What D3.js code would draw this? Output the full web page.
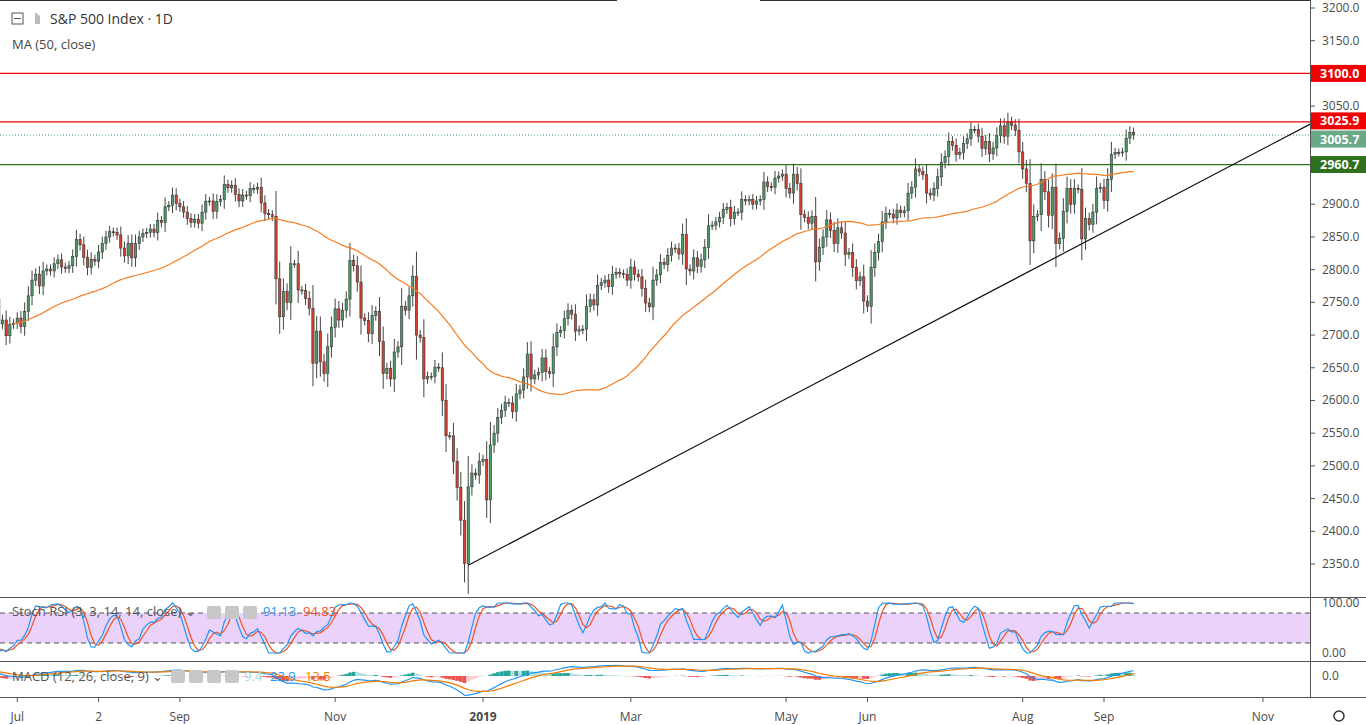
<!DOCTYPE html>
<html><head><meta charset="utf-8">
<script src="https://d3js.org/d3.v7.min.js"></script>
<style>body{margin:0;background:#fff;font-family:"Open Sans",Arial,sans-serif}svg{display:block}</style>
</head><body><svg id="c" width="1366" height="725"></svg>
<script>
// Daily closes before the visible window, 2018-04-20 .. 2018-06-22 (used by the indicators)
const priorCloses = [2670,2670,2635,2640,2667,2670,2648,
2655,2636,2630,2663,2673,2672,2697,2723,2728,2730,2711,2722,2720,2713,2733,2725,2733,2727,2721,2690,2724,2705,
2735,2747,2749,2772,2770,2779,2782,2787,2776,2782,2780,2774,2763,2767,2750,2755];
// Daily closes, 2018-06-25 .. 2019-09-13
const closesVisible = [
2717,2723,2699,2716,2718,
2726,2713,2736,2760,2784,2793,2775,2798,2801,2798,2809,2815,2804,2802,2806,2820,2846,2838,2819,2803,2816,
2813,2827,2840,2850,2858,2857,2853,2833,2821,2840,2818,2840,2850,2855,2857,2862,2857,2875,2872,2896,2898,2914,2901,
2896,2888,2878,2872,2877,2871,2888,2904,2905,2889,2904,2907,2930,2925,2929,2915,2905,2914,2913,
2924,2923,2926,2902,2886,2884,2881,2786,2728,2767,2750,2809,2809,2769,2768,2756,2741,2657,2706,2659,2641,2682,2712,
2740,2723,2738,2755,2814,2806,2781,2726,2722,2702,2730,2736,2690,2641,2649,2633,2674,2682,2744,2738,2760,
2790,2700,2696,2633,2637,2637,2651,2650,2600,2546,2546,2507,2467,2417,2351,2468,2489,2486,2507,
2510,2448,2532,2550,2574,2585,2597,2596,2583,2610,2616,2636,2671,2633,2639,2643,2665,2644,2641,2682,2704,
2707,2725,2738,2732,2706,2708,2709,2744,2754,2746,2776,2780,2784,2774,2793,2796,2794,2793,2784,
2804,2793,2789,2771,2749,2743,2784,2792,2811,2808,2822,2833,2832,2824,2854,2801,2798,2818,2805,2815,2834,
2867,2868,2873,2880,2892,2895,2878,2888,2888,2907,2905,2907,2900,2905,2907,2934,2927,2926,2940,2943,2946,
2924,2917,2946,2932,2884,2880,2871,2881,2812,2834,2850,2876,2860,2840,2864,2856,2823,2826,2803,2783,2789,2752,
2744,2803,2826,2843,2873,2886,2885,2879,2891,2887,2890,2917,2926,2954,2950,2945,2917,2914,2924,2942,
2964,2973,2996,2990,2976,2979,2993,3000,3014,3014,3004,2985,2996,2977,2986,3005,3020,3004,3026,3021,3013,2980,
2954,2932,2844,2881,2884,2938,2919,2883,2926,2840,2848,2889,2924,2900,2924,2923,2847,2878,2869,2888,2924,2926,
2906,2938,2976,2979,2979,2980,3001,3010,3006];
// indices into closesVisible
const timeTicks = [{i:5,t:"Jul"},{i:27,t:"2"},{i:49,t:"Sep"},{i:91,t:"Nov"},{i:131,t:"2019"},{i:171,t:"Mar"},{i:213,t:"May"},{i:235,t:"Jun"},{i:277,t:"Aug"},{i:299,t:"Sep"},{i:342,t:"Nov"}];
const priceTicks = [3200,3150,3100,3050,3000,2950,2900,2850,2800,2750,2700,2650,2600,2550,2500,2450,2400,2350];
const levels = [{v:3100.0,c:"#f00000"},{v:3025.9,c:"#f00000"},{v:2960.7,c:"#2f6f1e"}];
const lastPrice = 3005.7;
const trend = [{i:127,p:2348},{i:355.3,p:3024}];

const closes = priorCloses.concat(closesVisible);
const OFF = priorCloses.length;
const svg=d3.select("#c");
const W=1310;
const x=d3.scaleLinear().domain([131+OFF,299+OFF]).range([483,1104]);
const y=d3.scaleLinear().domain([2350,3200]).range([564,8]);
const step=x(1)-x(0), bw=step*0.62;
const main=svg.append("g");
main.append("clipPath").attr("id","cm").append("rect").attr("width",W).attr("height",597);
const g=main.append("g").attr("clip-path","url(#cm)");
const data=closes.map((c,i)=>{const o=i?closes[i-1]:c;const w=Math.abs(c-o)*0.35+6;return {i,o,c,h:Math.max(o,c)+w,l:Math.min(o,c)-w};}).filter(d=>d.i>=OFF-2);
g.selectAll(".wk").data(data).join("line").attr("x1",d=>x(d.i)).attr("x2",d=>x(d.i)).attr("y1",d=>y(d.h)).attr("y2",d=>y(d.l)).attr("stroke","#444").attr("stroke-width",1);
g.selectAll(".bd").data(data).join("rect").attr("x",d=>x(d.i)-bw/2).attr("width",bw).attr("y",d=>y(Math.max(d.o,d.c))).attr("height",d=>Math.max(1,Math.abs(y(d.o)-y(d.c)))).attr("fill",d=>d.c>=d.o?"#4c9a6a":"#d7402f").attr("stroke","#333").attr("stroke-width",0.6);
const ma=[];for(let i=49;i<closes.length;i++){ma.push({i,v:d3.mean(closes.slice(i-49,i+1))});}
g.append("path").datum(ma).attr("fill","none").attr("stroke","#f57c20").attr("stroke-width",1.2).attr("d",d3.line().x(d=>x(d.i)).y(d=>y(d.v)));
levels.forEach(L=>g.append("line").attr("x1",0).attr("x2",W).attr("y1",y(L.v)).attr("y2",y(L.v)).attr("stroke",L.c).attr("stroke-width",1.2));
g.append("line").attr("x1",0).attr("x2",W).attr("y1",y(lastPrice)).attr("y2",y(lastPrice)).attr("stroke","#4c9a6a").attr("stroke-dasharray","1,2");
g.append("line").attr("x1",x(trend[0].i+OFF)).attr("y1",y(trend[0].p)).attr("x2",x(trend[1].i+OFF)).attr("y2",y(trend[1].p)).attr("stroke","#111").attr("stroke-width",1.2);
svg.append("line").attr("x1",W+.5).attr("x2",W+.5).attr("y1",0).attr("y2",697).attr("stroke","#555");
const tags=[3100.0,3025.9,lastPrice,2960.7];
priceTicks.forEach(p=>{svg.append("line").attr("x1",W).attr("x2",W+5).attr("y1",y(p)).attr("y2",y(p)).attr("stroke","#555");
 if(tags.some(t=>Math.abs(y(t)-y(p))<15))return;
 svg.append("text").attr("x",1322).attr("y",y(p)+4).attr("font-size",12).attr("fill","#4a4a4a").text(p.toFixed(1));});
const tag=(v,c,dy)=>{const yy=y(v)+dy;svg.append("rect").attr("x",W+1).attr("y",yy-8.5).attr("width",56).attr("height",17).attr("fill",c);
 svg.append("text").attr("x",1320).attr("y",yy+4.5).attr("font-size",12.5).attr("font-weight","bold").attr("fill","#fff").text(v.toFixed(1));};
tag(3100.0,"#f00000",0);tag(3025.9,"#f00000",-1);tag(lastPrice,"#6aa886",4);tag(2960.7,"#2f6f1e",0);
svg.append("rect").attr("x",12).attr("y",13).attr("width",11).attr("height",11).attr("fill","none").attr("stroke","#555");
svg.append("line").attr("x1",14).attr("x2",21).attr("y1",18.5).attr("y2",18.5).attr("stroke","#555");
svg.append("path").attr("d","M35,12 L40,16 L40,24 L35,24Z").attr("fill","#bbb");
svg.append("text").attr("x",50).attr("y",24).attr("font-size",14).attr("fill","#333").text("S&P 500 Index · 1D");
svg.append("text").attr("x",12).attr("y",49).attr("font-size",13).attr("fill","#444").text("MA (50, close)");
[597,661,697].forEach(v=>svg.append("line").attr("x1",0).attr("x2",1366).attr("y1",v+.5).attr("y2",v+.5).attr("stroke","#555"));
svg.append("line").attr("x1",0).attr("x2",617).attr("y1",.5).attr("y2",.5).attr("stroke","#333");
svg.append("line").attr("x1",760).attr("x2",W).attr("y1",.5).attr("y2",.5).attr("stroke","#333");
// Stoch RSI
const n=closes.length;const rsi=new Array(n).fill(null);let ag=0,al=0;
for(let i=1;i<n;i++){const ch=closes[i]-closes[i-1],gn=Math.max(ch,0),ls=Math.max(-ch,0);
 if(i<=14){ag+=gn/14;al+=ls/14;if(i==14)rsi[i]=100-100/(1+ag/(al||1e-9));}
 else{ag=(ag*13+gn)/14;al=(al*13+ls)/14;rsi[i]=100-100/(1+ag/(al||1e-9));}}
const st=new Array(n).fill(null);
for(let i=27;i<n;i++){const w=rsi.slice(i-13,i+1);const lo=d3.min(w),hi=d3.max(w);st[i]=hi>lo?(rsi[i]-lo)/(hi-lo)*100:50;}
const sma=(a,k)=>a.map((v,i)=>{const w=a.slice(i-k+1,i+1);return (i<k-1||w.some(q=>q==null))?null:d3.mean(w);});
const K=sma(st,3),D=sma(K,3);
const ys=d3.scaleLinear().domain([0,100]).range([653,603]);
svg.append("rect").attr("x",0).attr("width",W).attr("y",ys(80)).attr("height",ys(20)-ys(80)).attr("fill","#ead2fb");
[80,20].forEach(v=>svg.append("line").attr("x1",0).attr("x2",W).attr("y1",ys(v)).attr("y2",ys(v)).attr("stroke","#555").attr("stroke-dasharray","5,4"));
const sp=svg.append("g");sp.append("clipPath").attr("id","cs").append("rect").attr("y",598).attr("width",W).attr("height",63);
const sg=sp.append("g").attr("clip-path","url(#cs)");
const ln=a=>d3.line().defined(d=>d!=null).x((d,i)=>x(i)).y(d=>ys(d))(a);
sg.append("path").attr("d",ln(D)).attr("fill","none").attr("stroke","#f4511e").attr("stroke-width",1.2);
sg.append("path").attr("d",ln(K)).attr("fill","none").attr("stroke","#2196f3").attr("stroke-width",1.2);
[100,0].forEach(v=>svg.append("text").attr("x",1322).attr("y",ys(v)+4).attr("font-size",12).attr("fill","#4a4a4a").text(v.toFixed(2)));
const icons=(x0,yy,cnt)=>{for(let k=0;k<cnt;k++)svg.append("rect").attr("x",x0+k*18).attr("y",yy-7).attr("width",14).attr("height",13).attr("rx",2).attr("fill","#c8c8c8");};
svg.append("text").attr("x",12).attr("y",616).attr("font-size",13).attr("fill","#555").text("Stoch RSI (3, 3, 14, 14, close) ⌄");
icons(207,613,3);
svg.append("text").attr("x",263).attr("y",616).attr("font-size",13).attr("fill","#2196f3").text("91.13");
svg.append("text").attr("x",303).attr("y",616).attr("font-size",13).attr("fill","#f4511e").text("94.83");
// MACD
const ema=(a,k)=>{const r=[];const al2=2/(k+1);a.forEach((v,i)=>{r.push(i?al2*v+(1-al2)*r[i-1]:v);});return r;};
const e12=ema(closes,12),e26=ema(closes,26);const macd=e12.map((v,i)=>v-e26[i]);const sig=ema(macd,9);const hist=macd.map((v,i)=>v-sig[i]);
const ym=d3.scaleLinear().domain([-60,60]).range([691,661]);
const mp=svg.append("g");mp.append("clipPath").attr("id","cmd").append("rect").attr("y",662).attr("width",W).attr("height",35);
const mg=mp.append("g").attr("clip-path","url(#cmd)");
mg.selectAll("rect").data(hist).join("rect").attr("x",(d,i)=>x(i)-step/2).attr("width",step).attr("y",d=>ym(Math.max(0,d))).attr("height",d=>Math.abs(ym(d)-ym(0)))
 .attr("fill",(d,i)=>{const up=i>0&&d>hist[i-1];return d>=0?(up?"#26a69a":"#b2dfdb"):(up?"#ffcdd2":"#ef5350");});
mg.append("path").datum(macd).attr("d",d3.line().defined((d,i)=>i>=26).x((d,i)=>x(i)).y(d=>ym(d))).attr("fill","none").attr("stroke","#2196f3").attr("stroke-width",1.2);
mg.append("path").datum(sig).attr("d",d3.line().defined((d,i)=>i>=26).x((d,i)=>x(i)).y(d=>ym(d))).attr("fill","none").attr("stroke","#f57c00").attr("stroke-width",1.2);
svg.append("text").attr("x",1322).attr("y",ym(0)+4).attr("font-size",12).attr("fill","#4a4a4a").text("0.0");
svg.append("text").attr("x",12).attr("y",681).attr("font-size",13).attr("fill","#555").text("MACD (12, 26, close, 9) ⌄");
icons(171,677,4);
svg.append("text").attr("x",244).attr("y",681).attr("font-size",13).attr("fill","#a6dbe0").text("9.4");
svg.append("text").attr("x",270).attr("y",681).attr("font-size",13).attr("fill","#2196f3").text("22.9");
svg.append("text").attr("x",305).attr("y",681).attr("font-size",13).attr("fill","#f57c00").text("13.5");
timeTicks.forEach(t=>{const xx=x(t.i+OFF);svg.append("line").attr("x1",xx).attr("x2",xx).attr("y1",697).attr("y2",702).attr("stroke","#555");
 svg.append("text").attr("x",xx).attr("y",721).attr("text-anchor","middle").attr("font-size",12).attr("fill","#4a4a4a").attr("font-weight",t.t=="2019"?"bold":"normal").text(t.t);});
svg.append("circle").attr("cx",1339).attr("cy",716).attr("r",5).attr("fill","none").attr("stroke","#333").attr("stroke-width",1.5);
</script></body></html>
